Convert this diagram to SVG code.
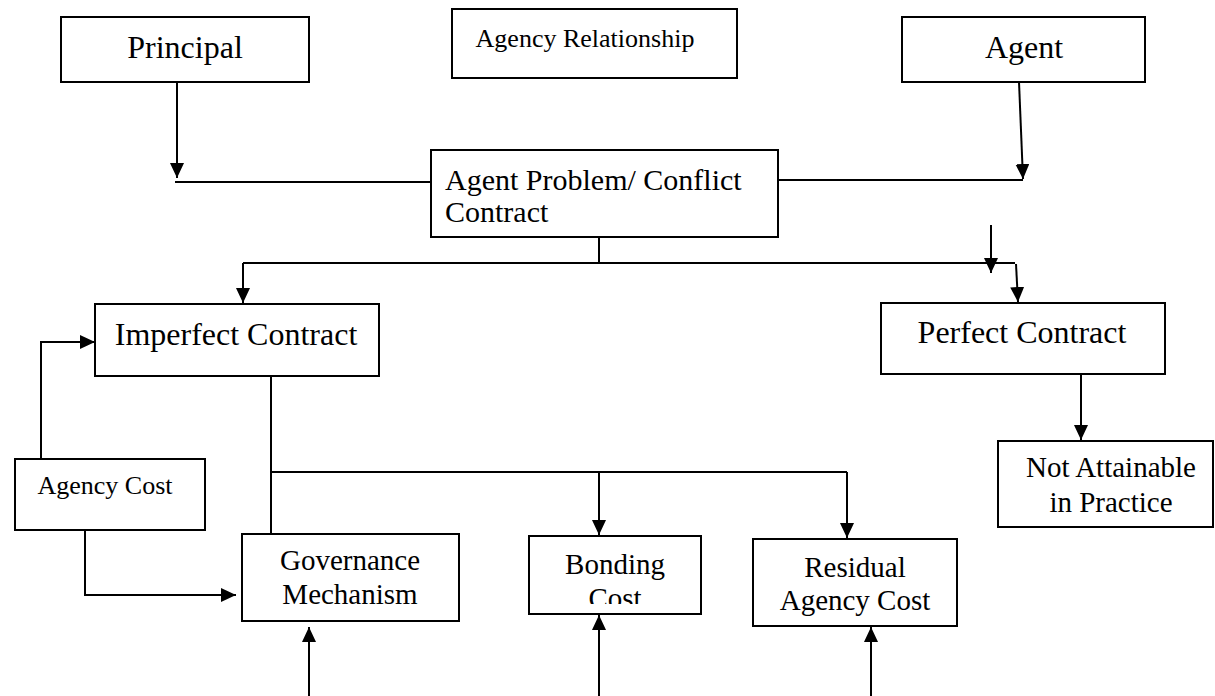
<svg xmlns="http://www.w3.org/2000/svg" width="1215" height="696" viewBox="0 0 1215 696">
<style>
.box{fill:#fff;stroke:#000;stroke-width:2}
.t{font-family:"Liberation Serif","Times New Roman",serif;fill:#000;text-anchor:middle}
.c{fill:none;stroke:#000;stroke-width:2}
</style>
<defs>
<marker id="ah" markerUnits="userSpaceOnUse" markerWidth="15" markerHeight="14" refX="15" refY="7" orient="auto">
<path d="M0,0 L15,7 L0,14 z" fill="#000"/>
</marker>
<clipPath id="bondclip"><rect x="529" y="536" width="172" height="68"/></clipPath>
</defs>
<rect width="1215" height="696" fill="#fff"/>
<g id="connectors">
<path class="c" d="M177,82 V178" marker-end="url(#ah)"/>
<path class="c" d="M175,182 H431"/>
<path class="c" d="M1019,82 L1023,179" marker-end="url(#ah)"/>
<path class="c" d="M778,180 H1023"/>
<path class="c" d="M599,237 V263"/>
<path class="c" d="M243,263 H1015"/>
<path class="c" d="M243,263 V303" marker-end="url(#ah)"/>
<path class="c" d="M991,225 V273" marker-end="url(#ah)"/>
<path class="c" d="M1016,264 L1018,302" marker-end="url(#ah)"/>
<path class="c" d="M1081,374 V440" marker-end="url(#ah)"/>
<path class="c" d="M271,376 V534"/>
<path class="c" d="M271,472 H847"/>
<path class="c" d="M599,472 V535" marker-end="url(#ah)"/>
<path class="c" d="M847,472 V538" marker-end="url(#ah)"/>
<path class="c" d="M41,459 V342 H95" marker-end="url(#ah)"/>
<path class="c" d="M85,530 V595 H236" marker-end="url(#ah)"/>
<path class="c" d="M309,696 V627" marker-end="url(#ah)"/>
<path class="c" d="M599,696 V615" marker-end="url(#ah)"/>
<path class="c" d="M871,696 V627" marker-end="url(#ah)"/>
</g>
<g id="principal">
<rect class="box" x="61" y="17" width="248" height="65"/>
<text class="t" x="185" y="58" font-size="32">Principal</text>
</g>
<g id="agency-relationship">
<rect class="box" x="452" y="9" width="285" height="69"/>
<text class="t" x="585" y="47" font-size="26">Agency Relationship</text>
</g>
<g id="agent">
<rect class="box" x="902" y="17" width="243" height="65"/>
<text class="t" x="1024" y="58" font-size="32">Agent</text>
</g>
<g id="agent-problem">
<rect class="box" x="431" y="150" width="347" height="87"/>
<text class="t" x="445" y="190" font-size="30" text-anchor="start" style="text-anchor:start">Agent Problem/ Conflict</text>
<text class="t" x="445" y="222" font-size="30" style="text-anchor:start">Contract</text>
</g>
<g id="imperfect-contract">
<rect class="box" x="95" y="304" width="284" height="72"/>
<text class="t" x="236" y="345" font-size="32">Imperfect Contract</text>
</g>
<g id="perfect-contract">
<rect class="box" x="881" y="303" width="284" height="71"/>
<text class="t" x="1022" y="343" font-size="32">Perfect Contract</text>
</g>
<g id="not-attainable">
<rect class="box" x="998" y="441" width="215" height="86"/>
<text class="t" x="1111" y="477" font-size="29">Not Attainable</text>
<text class="t" x="1111" y="512" font-size="29">in Practice</text>
</g>
<g id="agency-cost">
<rect class="box" x="15" y="459" width="190" height="71"/>
<text class="t" x="105" y="494" font-size="26">Agency Cost</text>
</g>
<g id="governance">
<rect class="box" x="242" y="534" width="217" height="87"/>
<text class="t" x="350" y="570" font-size="29">Governance</text>
<text class="t" x="350" y="604" font-size="29">Mechanism</text>
</g>
<g id="bonding">
<rect class="box" x="529" y="536" width="172" height="78"/>
<text class="t" x="615" y="574" font-size="29">Bonding</text>
<text class="t" x="615" y="608" font-size="29" clip-path="url(#bondclip)">Cost</text>
</g>
<g id="residual">
<rect class="box" x="753" y="539" width="204" height="87"/>
<text class="t" x="855" y="577" font-size="29">Residual</text>
<text class="t" x="855" y="610" font-size="29">Agency Cost</text>
</g>
</svg>
